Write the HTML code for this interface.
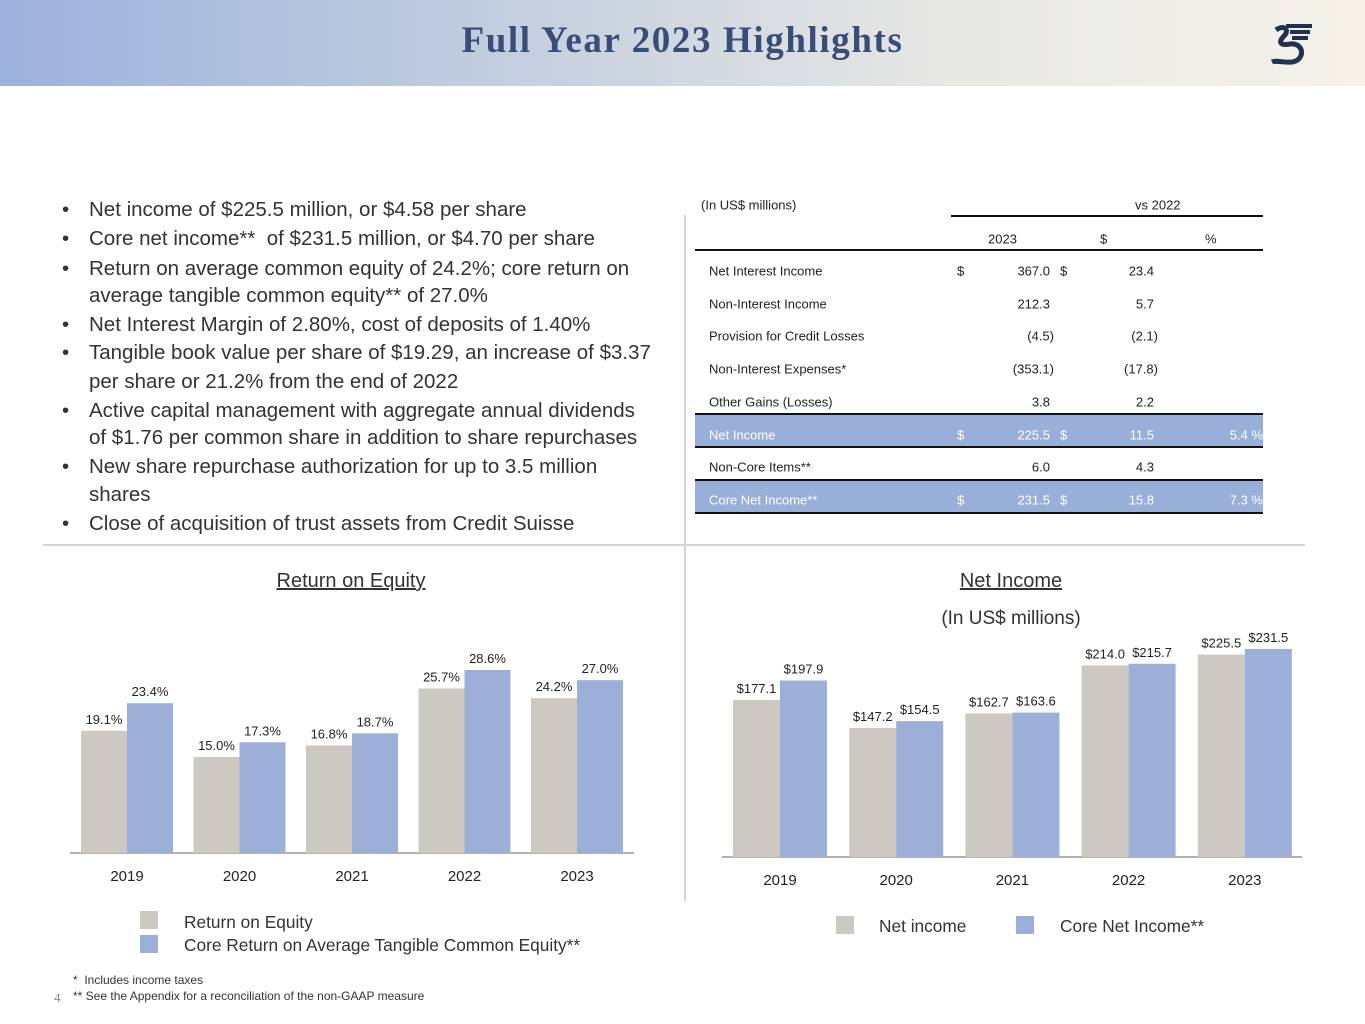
<!DOCTYPE html>
<html><head><meta charset="utf-8"><style>
body{margin:0;width:1365px;height:1024px;position:relative;background:#fff;font-family:"Liberation Sans",sans-serif;overflow:hidden;color:#222}
.abs{position:absolute}
#header{left:0;top:0;width:1365px;height:86px;background:linear-gradient(90deg,#9db2dc 0%,#c6d0df 40%,#e8e8e4 70%,#f4f2e9 100%)}
#title{left:0;width:1365px;top:19px;text-align:center;font-family:"Liberation Serif",serif;font-weight:bold;font-size:37px;letter-spacing:1.6px;color:#3a4c78}
.bl{position:absolute;left:62px;font-size:20.5px;color:#333;line-height:27px}
.bl span{position:absolute;left:27px;white-space:nowrap}
.t{position:absolute;font-size:13px;color:#222;white-space:nowrap;transform:translateY(-50%)}
.hl{position:absolute;left:695px;width:568px;background:#98afd9;border-top:2px solid #111;border-bottom:2px solid #111}
.w{color:#fff}
</style></head><body>
<div id="header" class="abs"></div>
<div id="title" class="abs">Full Year 2023 Highlights</div>
<svg class="abs" style="left:1266px;top:22px" width="48" height="46" viewBox="0 0 48 46">
<path d="M20 4 L46 4 M24 10 L44 10 M26 16 L42 16" stroke="#1f3250" stroke-width="4"/>
<path d="M10 8 C18 2 24 8 18 14 C12 20 14 24 24 22 C38 20 40 38 26 40 C18 41 10 38 6 40" stroke="#1f3250" stroke-width="5" fill="none"/>
</svg>

<div>
<div class="bl" style="top:196px">•<span>Net income of $225.5 million, or $4.58 per share</span></div>
<div class="bl" style="top:225px">•<span>Core net income**&nbsp; of $231.5 million, or $4.70 per share</span></div>
<div class="bl" style="top:255px">•<span>Return on average common equity of 24.2%; core return on</span></div>
<div class="bl" style="top:282px"><span>average tangible common equity** of 27.0%</span></div>
<div class="bl" style="top:311px">•<span>Net Interest Margin of 2.80%, cost of deposits of 1.40%</span></div>
<div class="bl" style="top:339px">•<span>Tangible book value per share of $19.29, an increase of $3.37</span></div>
<div class="bl" style="top:368px"><span>per share or 21.2% from the end of 2022</span></div>
<div class="bl" style="top:397px">•<span>Active capital management with aggregate annual dividends</span></div>
<div class="bl" style="top:424px"><span>of $1.76 per common share in addition to share repurchases</span></div>
<div class="bl" style="top:453px">•<span>New share repurchase authorization for up to 3.5 million</span></div>
<div class="bl" style="top:481px"><span>shares</span></div>
<div class="bl" style="top:510px">•<span>Close of acquisition of trust assets from Credit Suisse</span></div>
</div>

<div>
<div class="hl" style="top:413px;height:31px"></div>
<div class="hl" style="top:479px;height:31px"></div>
<div class="abs" style="left:951px;top:215px;width:312px;height:2px;background:#111"></div>
<div class="abs" style="left:695px;top:249px;width:568px;height:2px;background:#111"></div>
<div class="t" style="left:701px;top:205px">(In US$ millions)</div>
<div class="t" style="left:1135px;top:205px">vs 2022</div>
<div class="t" style="left:988px;top:239px">2023</div>
<div class="t" style="left:1100px;top:239px">$</div>
<div class="t" style="left:1205px;top:239px">%</div>
</div>
<div id="rows"></div>

<div class="abs" style="left:43px;top:544px;width:1262px;height:2px;background:#d4d4d4"></div>
<div class="abs" style="left:684px;top:215px;width:2px;height:686px;background:#d4d4d4"></div>

<div class="abs" style="left:201px;width:300px;top:570px;text-align:center;font-size:20px;text-decoration:underline;color:#333">Return on Equity</div>
<div class="abs" style="left:861px;width:300px;top:570px;text-align:center;font-size:20px;text-decoration:underline;color:#333">Net Income</div>
<div class="abs" style="left:861px;width:300px;top:608px;text-align:center;font-size:19px;color:#333">(In US$ millions)</div>

<svg id="roe" class="abs" style="left:0;top:0" width="1365" height="1024"></svg>

<div>
<div class="abs" style="left:140px;top:911px;width:18px;height:18px;background:#ccc9c3"></div>
<div class="abs" style="left:184px;top:912px;font-size:17.3px;color:#333">Return on Equity</div>
<div class="abs" style="left:140px;top:935px;width:18px;height:18px;background:#9bafd9"></div>
<div class="abs" style="left:184px;top:935px;font-size:17.3px;color:#333">Core Return on Average Tangible Common Equity**</div>
</div>
<div>
<div class="abs" style="left:836px;top:916px;width:18px;height:18px;background:#ccc9c3"></div>
<div class="abs" style="left:879px;top:916px;font-size:17.3px;color:#333">Net income</div>
<div class="abs" style="left:1016px;top:916px;width:18px;height:18px;background:#9bafd9"></div>
<div class="abs" style="left:1060px;top:916px;font-size:17.3px;color:#333">Core Net Income**</div>
</div>
<div class="abs" style="left:73px;top:973px;font-size:12px;color:#333">*&nbsp; Includes income taxes</div>
<div class="abs" style="left:73px;top:989px;font-size:12px;color:#333">** See the Appendix for a reconciliation of the non-GAAP measure</div>
<div class="abs" style="left:54px;top:990px;font-size:13px;color:#888;font-family:'Liberation Serif',serif">4</div>

<script>
const rowLabels=["Net Interest Income","Non-Interest Income","Provision for Credit Losses","Non-Interest Expenses*","Other Gains (Losses)","Net Income","Non-Core Items**","Core Net Income**"];
const rowVal2023=["367.0","212.3","(4.5)","(353.1)","3.8","225.5","6.0","231.5"];
const rowValDelta=["23.4","5.7","(2.1)","(17.8)","2.2","11.5","4.3","15.8"];
const rowPct=["","","","","","5.4 %","","7.3 %"];
const rowDollar=[true,false,false,false,false,true,false,true];
const rowsEl=document.getElementById('rows');
function tx(x,y,s,cls,right){const d=document.createElement('div');d.className='t '+(cls||'');d.textContent=s;d.style.top=y+'px';if(right){d.style.right=(1365-x)+'px';}else d.style.left=x+'px';rowsEl.appendChild(d);return d;}
rowLabels.forEach((l,i)=>{
  const y=271+i*32.7, w=(i==5||i==7)?'w':'';
  const par=s=>s.endsWith(')');
  const a=tx(709,y,l,w);
  
  
  if(rowDollar[i]){tx(957,y,'$',w);tx(1060,y,'$',w);}
  const b=tx(par(rowVal2023[i])?1054:1050,y,rowVal2023[i],w,true);
  
  
  const c=tx(par(rowValDelta[i])?1158:1154,y,rowValDelta[i],w,true);
  
  
  if(rowPct[i]){const p=tx(1263,y,rowPct[i],w,true);
  
  }
});

const years=["2019","2020","2021","2022","2023"];
const roe=[19.1,15.0,16.8,25.7,24.2];
const coreRote=[23.4,17.3,18.7,28.6,27.0];
const netIncome=[177.1,147.2,162.7,214.0,225.5];
const coreNetIncome=[197.9,154.5,163.6,215.7,231.5];

const svg=document.getElementById('roe');const NS='http://www.w3.org/2000/svg';
function el(t,a,txt){const e=document.createElementNS(NS,t);for(const k in a)e.setAttribute(k,a[k]);if(txt!==undefined)e.textContent=txt;svg.appendChild(e);return e;}
function chart(cfg){
  const {x0,step,bw,base,scale,s1,s2,fmt,axisX1,axisX2,yearY,name}=cfg;
  const ax=el('line',{x1:axisX1,x2:axisX2,y1:base,y2:base,stroke:'#999','stroke-width':1.5});
  
  
  years.forEach((yr,i)=>{
    const cx=x0+i*step;
    [[s1[i],cx-bw,'#ccc9c3'],[s2[i],cx,'#9bafd9']].forEach(([v,x,c],j)=>{
      const y=scale(v);
      const r=el('rect',{x:x,y:y,width:bw,height:base-y,fill:c});
      
      
      const t=el('text',{x:x+bw/2,y:y-7,'text-anchor':'middle','font-size':13,fill:'#222','font-family':'Liberation Sans'},fmt(v));
      
      
    });
    const yl=el('text',{x:cx,y:yearY,'text-anchor':'middle','font-size':15,fill:'#222','font-family':'Liberation Sans'},yr);
    
    
  });
}
chart({x0:127,step:112.5,bw:46,base:853,scale:v=>853-v*6.4,s1:roe,s2:coreRote,fmt:v=>v.toFixed(1)+'%',axisX1:70,axisX2:634,yearY:881,name:'roe'});
chart({x0:780,step:116.2,bw:47,base:857,scale:v=>857-(v-9.6)*0.9375,s1:netIncome,s2:coreNetIncome,fmt:v=>'$'+v.toFixed(1),axisX1:722,axisX2:1302,yearY:885,name:'net-income'});
</script>
</body></html>
